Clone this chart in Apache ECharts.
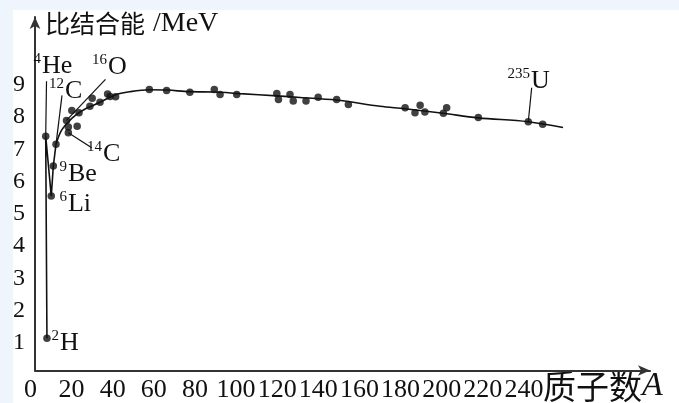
<!DOCTYPE html>
<html><head><meta charset="utf-8">
<script src="https://cdn.jsdelivr.net/npm/echarts@6/dist/echarts.min.js"></script>
<style>html,body{margin:0;padding:0;background:#eef5fc;} #c{width:679px;height:403px;}</style>
</head><body><div id="c"></div>
<script>
// ---- data ----
const xTickLabels = [0,20,40,60,80,100,120,140,160,180,200,220,240];
const yTickLabels = [1,2,3,4,5,6,7,8,9];

// nuclei dots: mass number A, binding energy per nucleon (MeV)
const pointA = [8.0,7.4,10.1,11.1,12.4,17.5,18.4,18.4,20.1,22.7,23.6,28.9,30.0,33.8,37.5,38.7,41.4,57.8,66.2,77.5,89.4,92.2,100.3,119.8,120.6,126.2,127.8,134.0,139.9,148.9,154.6,182.2,187.0,189.5,191.8,200.8,202.4,217.8,242.1,249.1];
const pointE = [1.15,7.40,5.55,6.48,7.15,7.89,7.69,7.51,8.20,7.71,8.13,8.33,8.58,8.45,8.71,8.63,8.62,8.85,8.82,8.76,8.85,8.69,8.69,8.72,8.54,8.69,8.49,8.49,8.61,8.54,8.38,8.28,8.13,8.36,8.15,8.11,8.28,7.98,7.85,7.77];

// light-nuclei zigzag (straight segments)
const lightA = [8.0,7.4,10.1,11.1,12.4];
const lightE = [1.15,7.40,5.55,6.48,7.15];

// smooth trend curve
const curveA = [12.4,14.8,18.2,22.1,27.0,33.8,41.1,48.4,58.1,66.4,77.5,89.8,101.9,119.9,131.1,148.6,170.0,182.2,200.7,217.7,242.0,259.0];
const curveE = [7.15,7.55,7.83,8.06,8.26,8.45,8.68,8.78,8.84,8.83,8.78,8.77,8.72,8.65,8.60,8.52,8.33,8.25,8.11,7.97,7.85,7.67];

// labelled nuclei
const isoSymbol = ['H','He','Li','Be','C','O','C','U'];
const isoMass   = ['2','4','6','9','12','16','14','235'];
const isoA = [8.0,7.4,10.1,11.1,12.4,17.5,18.4,242.1];
const isoE = [1.15,7.40,5.55,6.48,7.15,7.89,7.51,7.85];

// ---- layout / style (pixel offsets from the labelled dot) ----
const isoLayout = [
  {label:[13,5]},
  {label:[-3.7,-70], leader:[0.8,-55]},
  {label:[16.7,8]},
  {label:[14.7,8]},
  {label:[9,-53], leader:[6,-49]},
  {label:[41.5,-53.5], leader:[39,-41]},
  {label:[34.7,21.7], leader:[23.4,15]},
  {label:[2.7,-41], leader:[3.4,-34]}
];

const INK = '#111';
const SERIF = 'Liberation Serif';
const CJK = 'Noto Sans CJK SC';
const X_MIN_AXIS = 2.19;
const X_MAX = 301.3;

function renderIso(params, api) {
  const i = api.value(2);
  const p = api.coord([api.value(0), api.value(1)]);
  const lay = isoLayout[i];
  const children = [];
  if (lay.leader) {
    children.push({type:'line', shape:{x1:p[0], y1:p[1], x2:p[0]+lay.leader[0], y2:p[1]+lay.leader[1]},
      style:{stroke:INK, lineWidth:1.2}});
  }
  const lx = p[0]+lay.label[0], ly = p[1]+lay.label[1];
  children.push({type:'text', x:lx, y:ly, style:{text:isoSymbol[i], fontFamily:SERIF, fontSize:26, fill:INK, align:'left', verticalAlign:'middle'}});
  children.push({type:'text', x:lx-1, y:ly-7, style:{text:isoMass[i], fontFamily:SERIF, fontSize:15, fill:INK, align:'right', verticalAlign:'middle'}});
  return {type:'group', children};
}

const chart = echarts.init(document.getElementById('c'), null, {renderer:'canvas'});
chart.setOption({
  animation:false,
  backgroundColor:'transparent',
  graphic:[{type:'rect', z:-10, silent:true, shape:{x:13, y:10, width:666, height:393}, style:{fill:'#ffffff'}}],
  grid:[
    {left:30.5, right:29, top:17, bottom:30.5},
    {left:35, right:29, top:17, bottom:30.5}
  ],
  xAxis:[
    { gridIndex:0, type:'value', min:0, max:X_MAX,
      axisLine:{show:false}, axisTick:{show:false}, splitLine:{show:false},
      axisLabel:{customValues:xTickLabels, margin:8, fontFamily:SERIF, fontSize:26, color:INK} },
    { gridIndex:1, type:'value', min:X_MIN_AXIS, max:X_MAX,
      axisLine:{show:true, onZero:false, symbol:['none','arrow'], symbolSize:[8,12], lineStyle:{color:'#333', width:2}},
      axisTick:{show:false}, axisLabel:{show:false}, splitLine:{show:false},
      name:'{c|质子数}{a|A}', nameLocation:'end', nameGap:-107, nameMoveOverlap:false,
      nameTextStyle:{align:'left', verticalAlign:'middle', padding:[31,0,0,0],
        rich:{c:{fontFamily:CJK, fontSize:33, color:INK}, a:{fontFamily:SERIF, fontStyle:'italic', fontSize:34, color:INK}}} }
  ],
  yAxis:[
    { gridIndex:0, type:'value', min:0.154, max:11.09, show:false },
    { gridIndex:1, type:'value', min:0.154, max:11.09,
      axisLine:{show:true, onZero:false, symbol:['none','arrow'], symbolSize:[8,12], lineStyle:{color:'#333', width:2}},
      axisTick:{show:false}, splitLine:{show:false},
      axisLabel:{customValues:yTickLabels, margin:10, fontFamily:SERIF, fontSize:24, color:INK},
      name:'{c|比结合能}{m|/MeV}', nameLocation:'end', nameGap:-6.5, nameMoveOverlap:false,
      nameTextStyle:{align:'left', verticalAlign:'middle', padding:[0,0,0,10],
        rich:{c:{fontFamily:CJK, fontSize:25, color:INK}, m:{fontFamily:SERIF, fontSize:28, color:INK, padding:[0,0,0,8]}}} }
  ],
  series:[
    { type:'line', xAxisIndex:1, yAxisIndex:1, data:lightA.map((a,i)=>[a, lightE[i]]),
      showSymbol:false, smooth:false, lineStyle:{color:INK, width:1.6}, z:3, silent:true },
    { type:'line', xAxisIndex:1, yAxisIndex:1, data:curveA.map((a,i)=>[a, curveE[i]]),
      showSymbol:false, smooth:0.35, lineStyle:{color:INK, width:1.6}, z:3, silent:true },
    { type:'scatter', xAxisIndex:1, yAxisIndex:1, data:pointA.map((a,i)=>[a, pointE[i]]),
      symbolSize:7.5, itemStyle:{color:INK}, z:4, silent:true },
    { type:'custom', xAxisIndex:1, yAxisIndex:1, data:isoA.map((a,i)=>[a, isoE[i], i]),
      renderItem:renderIso, z:5, silent:true, clip:false }
  ]
});
</script>
</body></html>
